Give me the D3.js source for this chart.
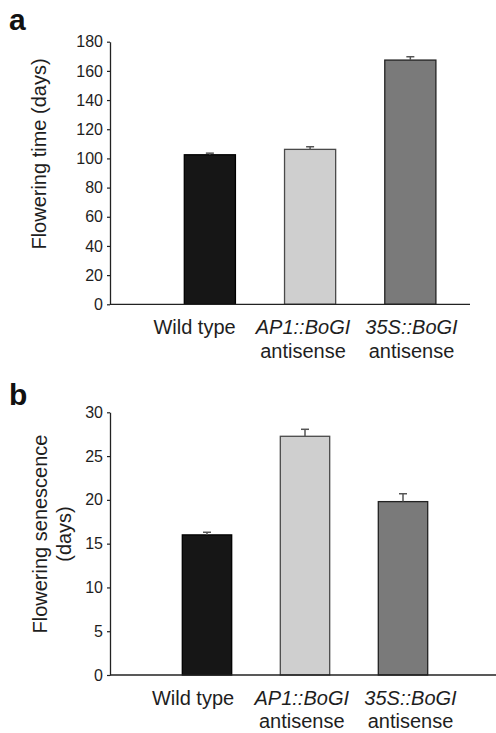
<!DOCTYPE html>
<html><head><meta charset="utf-8">
<script src="https://cdn.jsdelivr.net/npm/d3@7"></script>
<style>
html,body{margin:0;padding:0;background:#fff;}
svg{display:block;font-family:"Liberation Sans",Arial,sans-serif;}
</style></head><body>
<script>
const categories = ["Wild type", "AP1::BoGI antisense", "35S::BoGI antisense"];
const labelLine1 = ["Wild type", "AP1::BoGI", "35S::BoGI"];
const labelLine2 = ["", "antisense", "antisense"];
const labelItalic = [false, true, true];
const floweringTime = [102.5, 106.2, 167.4];
const floweringTimeErr = [1.1, 1.8, 2.3];
const senescence = [16.0, 27.26, 19.8];
const senescenceErr = [0.3, 0.8, 0.9];
const ticksA = [0, 20, 40, 60, 80, 100, 120, 140, 160, 180];
const ticksB = [0, 5, 10, 15, 20, 25, 30];
const barFills = ["#161616", "#cfcfcf", "#7a7a7a"];
const barStrokes = ["#000", "#4a4a4a", "#222"];

const W = 496, H = 733;
const svg = d3.select("body").append("svg").attr("width", W).attr("height", H);
const textCol = "#1e1e1e";

function panel(cfg) {
  const g = svg.append("g");
  const y = d3.scaleLinear().domain(cfg.domain).range(cfg.yRange);
  const x = d3.scaleBand().domain(categories).range(cfg.xRange).paddingInner(cfg.pad).paddingOuter(0);
  const xl = d3.scalePoint().domain(categories).range(cfg.labelRange);

  // y axis
  const ax = g.append("g").attr("transform", `translate(${cfg.axisX},0)`)
    .call(d3.axisLeft(y).tickValues(cfg.ticks).tickSize(3).tickPadding(4).tickSizeOuter(0));
  ax.select(".domain").attr("stroke", "#222").attr("stroke-width", 1.3);
  ax.selectAll(".tick line").attr("stroke", "#222").attr("stroke-width", 1.2);
  ax.selectAll(".tick text").attr("font-size", 16).attr("fill", textCol)
    .attr("font-family", '"Liberation Sans",Arial,sans-serif');

  // bars
  g.selectAll("rect.bar").data(cfg.values).join("rect").attr("class", "bar")
    .attr("x", (d, i) => x(categories[i]))
    .attr("width", x.bandwidth())
    .attr("y", d => y(d))
    .attr("height", d => y(0) - y(d))
    .attr("fill", (d, i) => barFills[i])
    .attr("stroke", (d, i) => barStrokes[i])
    .attr("stroke-width", 1.3);

  // error bars
  cfg.values.forEach((v, i) => {
    const cx = x(categories[i]) + x.bandwidth() / 2;
    g.append("line").attr("x1", cx).attr("x2", cx).attr("y1", y(v)).attr("y2", y(v + cfg.err[i]))
      .attr("stroke", "#555").attr("stroke-width", 1.5);
    g.append("line").attr("x1", cx - 4).attr("x2", cx + 4)
      .attr("y1", y(v + cfg.err[i])).attr("y2", y(v + cfg.err[i]))
      .attr("stroke", "#555").attr("stroke-width", 1.5);
  });

  // x axis line
  g.append("line").attr("x1", cfg.axisX).attr("x2", cfg.xAxisEnd)
    .attr("y1", y(0)).attr("y2", y(0)).attr("stroke", "#222").attr("stroke-width", 1.3);

  // x labels
  categories.forEach((c, i) => {
    g.append("text").attr("x", xl(c)).attr("y", cfg.labelY1).attr("text-anchor", "middle")
      .attr("font-size", 20).attr("fill", textCol)
      .attr("font-style", labelItalic[i] ? "italic" : "normal").text(labelLine1[i]);
    if (labelLine2[i]) g.append("text").attr("x", xl(c)).attr("y", cfg.labelY2).attr("text-anchor", "middle")
      .attr("font-size", 20).attr("fill", textCol).text(labelLine2[i]);
  });

  // y label
  const yl = g.append("g").attr("transform", `translate(${cfg.yLabelX},${cfg.yLabelY}) rotate(-90)`);
  cfg.yLabel.forEach((t, k) => {
    yl.append("text").attr("x", 0).attr("y", k * 24).attr("text-anchor", "middle")
      .attr("font-size", 20).attr("fill", textCol).text(t);
  });

  // panel letter
  g.append("text").attr("x", 9).attr("y", cfg.letterY).attr("font-size", 30)
    .attr("font-weight", "bold").attr("fill", "#111").text(cfg.letter);
}

panel({
  domain: [0, 180], yRange: [304.3, 41.7], ticks: ticksA,
  xRange: [184.3, 435.9], pad: 0.49, labelRange: [194.5, 411.5],
  values: floweringTime, err: floweringTimeErr,
  axisX: 110, xAxisEnd: 470, labelY1: 334, labelY2: 358,
  yLabel: ["Flowering time (days)"], yLabelX: 46, yLabelY: 154,
  letter: "a", letterY: 30
});

panel({
  domain: [0, 30], yRange: [675, 412.3], ticks: ticksB,
  xRange: [182.3, 427.7], pad: 0.496, labelRange: [193, 410.5],
  values: senescence, err: senescenceErr,
  axisX: 110, xAxisEnd: 496, labelY1: 705, labelY2: 728,
  yLabel: ["Flowering senescence", "(days)"], yLabelX: 47, yLabelY: 534,
  letter: "b", letterY: 405
});
</script>
</body></html>
